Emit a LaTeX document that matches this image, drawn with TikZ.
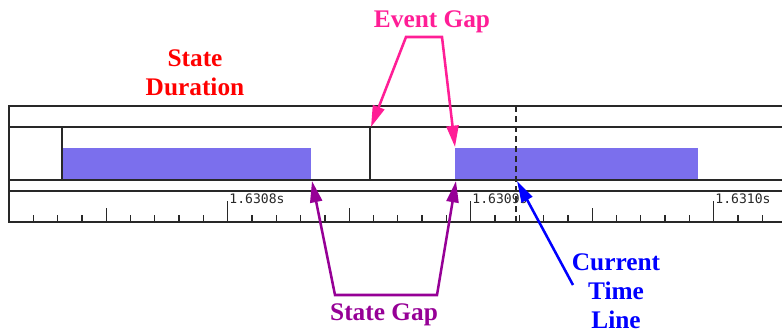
\documentclass[tikz,border=0pt]{standalone}
\usepackage{fontspec}
\setmainfont{Liberation Serif}
\newfontfamily\tickfont{DejaVu Sans Mono}
\usetikzlibrary{arrows.meta}
\definecolor{durRed}{RGB}{255,0,0}
\definecolor{gapPink}{RGB}{255,30,150}
\definecolor{gapPurple}{RGB}{150,0,150}
\definecolor{timeBlue}{RGB}{0,0,255}
\definecolor{barBlue}{RGB}{123,111,237}
\definecolor{frameGray}{RGB}{40,40,40}

\begin{document}
\begin{tikzpicture}[x=0.75pt,y=0.75pt,yscale=-1,xscale=1,
  frameline/.style={color=frameGray, line width=0.9pt},
  tickline/.style={color=frameGray, line width=1pt},
  statebar/.style={fill=barBlue, draw=none},
  ticklabel/.style={anchor=base west, inner sep=0pt, text=frameGray, font=\tickfont\fontsize{9.8}{11}\selectfont},
  callout/.style={inner sep=0pt, align=center, font=\bfseries\fontsize{19}{21.75}\selectfont},
  gaparrow/.style={line width=1.9pt, {Triangle[length=16pt,width=9pt]}-{Triangle[length=16pt,width=9pt]}},
  timearrow/.style={line width=1.9pt, -{Triangle[length=16pt,width=9pt]}}]
\useasboundingbox (0,0) rectangle (782,332);

%Shape: Rectangle [state bars]
\fill [statebar] (62,148) rectangle (311,180);
\fill [statebar] (455,148) rectangle (698,180);

%Straight Lines [frame]
\draw [frameline] (782,106) -- (9,106) -- (9,222) -- (782,222);
\draw [frameline] (9,127) -- (782,127);
\draw [frameline] (9,180) -- (782,180);
\draw [frameline] (9,191) -- (782,191);
%Straight Lines [event marks]
\draw [frameline] (62,127) -- (62,180);
\draw [frameline] (370,127) -- (370,180);
%Straight Lines [current time]
\draw [frameline, dash pattern={on 4.5pt off 3pt}] (516,106) -- (516,222);

%Straight Lines [ticks]
\foreach \k in {0,...,30} {
  \draw [tickline] ({33.3+24.3*\k},215) -- ({33.3+24.3*\k},222);
}
\foreach \k in {3,13,23} {
  \draw [tickline] ({33.3+24.3*\k},208) -- ({33.3+24.3*\k},222);
}
\foreach \k/\lbl in {8/1.6308s,18/1.6309s,28/1.6310s} {
  \draw [tickline] ({33.3+24.3*\k},201) -- ({33.3+24.3*\k},222);
  % Text Node
  \node (tick\k) [ticklabel] at ({33.3+24.3*\k+1.5},203) {\lbl};
}

% Text Node
\node (stateDur) [callout, text=durRed, anchor=north] at (195,49) {State\\Duration};
% Text Node
\node (eventGap) [callout, text=gapPink, anchor=base] at (432,27) {Event Gap};
% Text Node
\node (stateGap) [callout, text=gapPurple, anchor=base] at (384,320) {State Gap};
% Text Node
\node (curTime) [callout, text=timeBlue, anchor=north] at (616,253) {Current\\Time\\Line};

%Straight Lines [callout arrows]
\coordinate (egL) at (406,37);
\coordinate (egR) at (442,37);
\coordinate (egTipL) at (371,127);
\coordinate (egTipR) at (455,147);
\coordinate (sgL) at (335,295);
\coordinate (sgR) at (437,295);
\coordinate (sgTipL) at (312,181);
\coordinate (sgTipR) at (456,181);
\coordinate (ctFoot) at (573,285);
\coordinate (ctTip) at (517,181);
\draw [gaparrow, color=gapPink] (egTipL) -- (egL) -- (egR) -- (egTipR);
\draw [gaparrow, color=gapPurple] (sgTipL) -- (sgL) -- (sgR) -- (sgTipR);
\draw [timearrow, color=timeBlue] (ctFoot) -- (ctTip);

\end{tikzpicture}
\end{document}
